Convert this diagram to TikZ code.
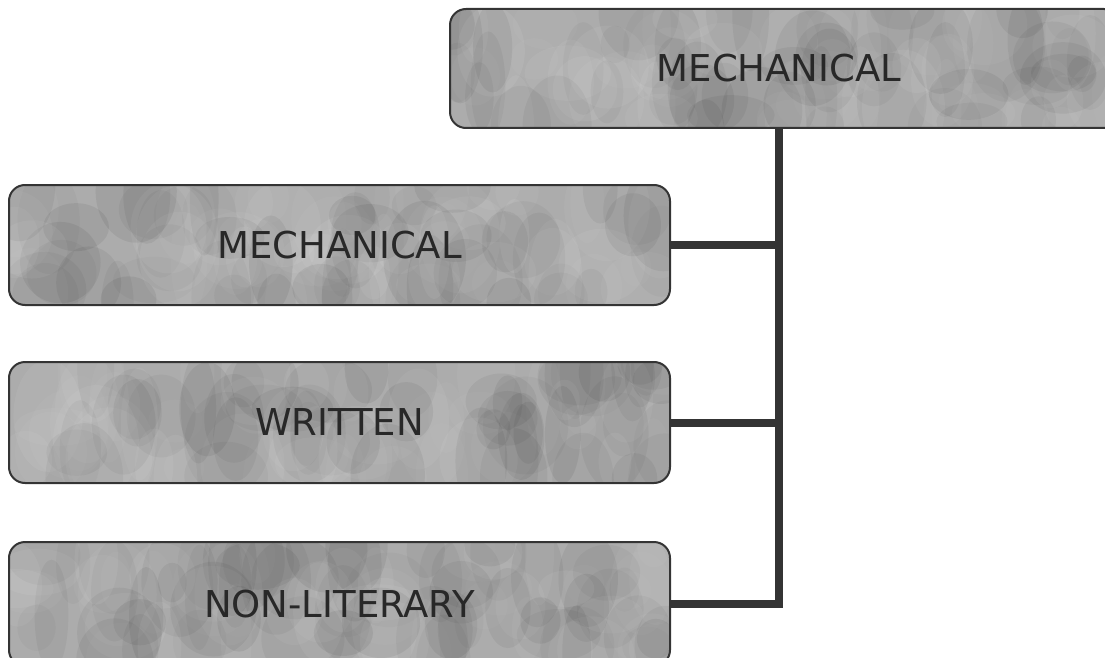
\documentclass[tikz,border=0pt]{standalone}
\usepackage{fontspec}
\setmainfont{DejaVu Sans}
\usetikzlibrary{calc}
\definecolor{boxgray}{RGB}{172,172,172}
\definecolor{linegray}{RGB}{52,52,52}
\definecolor{textgray}{RGB}{40,40,40}
\pgfmathsetseed{11}
\tikzset{
  mottle/.style={path picture={
    \foreach \i in {1,...,110}{
      \pgfmathsetmacro\px{rnd}\pgfmathsetmacro\py{rnd}
      \pgfmathsetmacro\rw{14+30*rnd}\pgfmathsetmacro\rh{18+40*rnd}
      \pgfmathsetmacro\op{0.025+0.04*rnd}
      \pgfmathsetmacro\dk{rnd}
      \ifdim\dk pt>0.5pt
        \fill[black,opacity=\op] let \p1=(path picture bounding box.south west), \p2=(path picture bounding box.north east) in
          ({\x1+\px*(\x2-\x1)},{\y1+\py*(\y2-\y1)}) ellipse [x radius=\rw pt, y radius=\rh pt];
      \else
        \fill[white,opacity=\op] let \p1=(path picture bounding box.south west), \p2=(path picture bounding box.north east) in
          ({\x1+\px*(\x2-\x1)},{\y1+\py*(\y2-\y1)}) ellipse [x radius=\rw pt, y radius=\rh pt];
      \fi
    }
  }},
  catbox/.style={draw=linegray, line width=2pt, fill=boxgray, rounded corners=16pt,
    rectangle, inner sep=0pt, text=textgray, mottle,
    font=\fontsize{37}{44}\selectfont},
  link/.style={draw=linegray, line width=8pt, line join=miter}
}
\begin{document}
\begin{tikzpicture}[x=1pt,y=-1pt]
\useasboundingbox (0,0) rectangle (1105,658);
\clip (0,0) rectangle (1105,658);
\node[catbox, minimum width=670pt, minimum height=119pt] (top) at (785,68.5) {\hspace*{-12pt}MECHANICAL};
\node[catbox, minimum width=661pt, minimum height=120pt] (mech) at (339.5,245) {MECHANICAL};
\node[catbox, minimum width=661pt, minimum height=121pt] (writ) at (339.5,422.5) {WRITTEN};
\node[catbox, minimum width=661pt, minimum height=124pt] (nonl) at (339.5,604) {NON-LITERARY};
\coordinate (stem) at (779,128);
\path[link] (stem) |- (nonl.east);
\path[link] (mech.east) -- (mech.east -| stem);
\path[link] (writ.east) -- (writ.east -| stem);
\end{tikzpicture}
\end{document}
